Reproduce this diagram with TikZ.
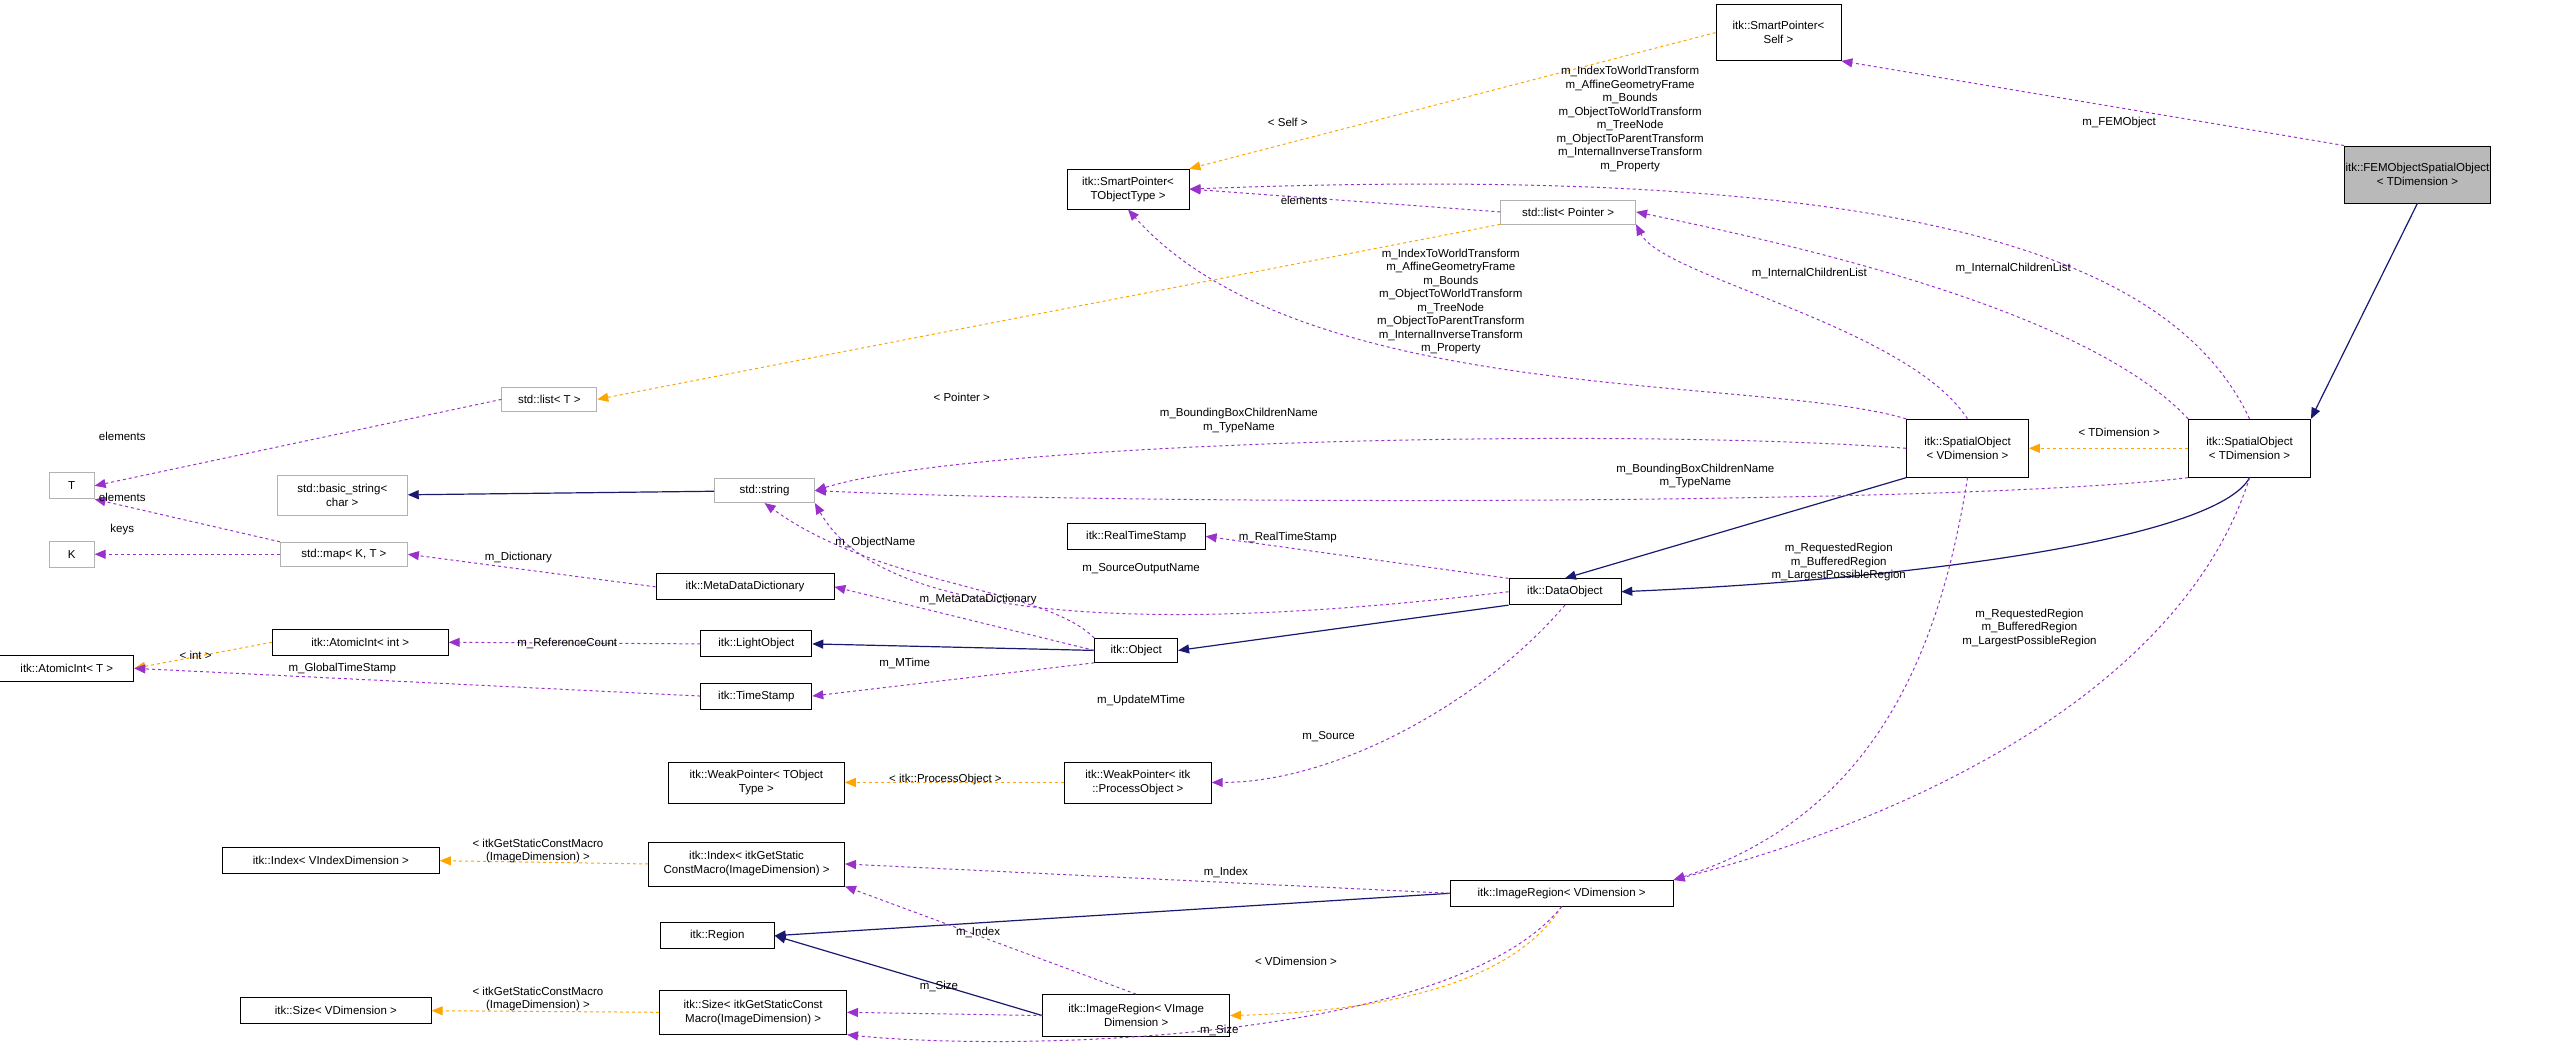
\documentclass[tikz,border=0pt]{standalone}
\usepackage{fontspec}
\setmainfont{Liberation Sans}
\usetikzlibrary{arrows.meta,positioning,calc}
\definecolor{inhnavy}{RGB}{25,25,112}
\definecolor{usepurple}{RGB}{153,50,204}
\definecolor{tmplorange}{RGB}{255,165,0}

\begin{document}
\begin{tikzpicture}[x=1.63pt,y=-1.63pt,
    cls/.style={draw=black, fill=white, thick, align=center, inner sep=1pt, font=\fontsize{11.5}{14}\selectfont},
    ext/.style={cls, draw=gray!60},
    lbl/.style={align=center, inner sep=0pt, font=\fontsize{11.5}{13.5}\selectfont},
    inh/.style={draw=inhnavy, line width=1.2pt, -{Triangle[length=11pt,width=9pt]}},
    use/.style={draw=usepurple, line width=1pt, dashed, -{Triangle[length=11pt,width=9pt]}},
    tmpl/.style={draw=tmplorange, line width=1pt, dashed, -{Triangle[length=11pt,width=9pt]}}]
    \useasboundingbox (0,0) rectangle (1568,641);

    % classes
    \node[cls, minimum width=125pt, minimum height=56pt] (spself) at (1091,20) {itk::SmartPointer<\\Self >};
    \node[cls, fill=gray!55, minimum width=127pt, minimum height=57pt] (fem) at (1483,107) {itk::FEMObjectSpatialObject\\< TDimension >};
    \node[cls, minimum width=122pt, minimum height=40pt] (spt) at (692,116) {itk::SmartPointer<\\TObjectType >};
    \node[ext, minimum width=135pt, minimum height=24pt] (listp) at (962,130) {std::list< Pointer >};
    \node[cls, minimum width=122pt, minimum height=58pt] (sov) at (1207,275) {itk::SpatialObject\\< VDimension >};
    \node[cls, minimum width=122pt, minimum height=58pt] (sot) at (1380,275) {itk::SpatialObject\\< TDimension >};
    \node[ext, minimum width=95pt, minimum height=24pt] (listt) at (337,245) {std::list< T >};
    \node[ext, minimum width=45pt, minimum height=26pt] (tt) at (44,298) {T};
    \node[ext, minimum width=45pt, minimum height=26pt] (kk) at (44,340) {K};
    \node[ext, minimum width=130pt, minimum height=40pt] (bstr) at (210,304) {std::basic\_string<\\char >};
    \node[ext, minimum width=100pt, minimum height=24pt] (str) at (469,301) {std::string};
    \node[ext, minimum width=127pt, minimum height=24pt] (map) at (211,340) {std::map< K, T >};
    \node[cls, minimum width=178pt, minimum height=26pt] (mdd) at (457,360) {itk::MetaDataDictionary};
    \node[cls, minimum width=138pt, minimum height=26pt] (rts) at (697,329) {itk::RealTimeStamp};
    \node[cls, minimum width=112pt, minimum height=26pt] (dobj) at (960,363) {itk::DataObject};
    \node[cls, minimum width=176pt, minimum height=26pt] (aint) at (221,394) {itk::AtomicInt< int >};
    \node[cls, minimum width=111pt, minimum height=26pt] (lobj) at (464,395) {itk::LightObject};
    \node[cls, minimum width=134pt, minimum height=26pt] (atmpl) at (41,410) {itk::AtomicInt< T >};
    \node[cls, minimum width=111pt, minimum height=26pt] (tstamp) at (464,427) {itk::TimeStamp};
    \node[cls, minimum width=83pt, minimum height=24pt] (obj) at (697,399) {itk::Object};
    \node[cls, minimum width=176pt, minimum height=41pt] (wptr) at (464,480) {itk::WeakPointer< TObject\\Type >};
    \node[cls, minimum width=147pt, minimum height=41pt] (wpo) at (698,480) {itk::WeakPointer< itk\\::ProcessObject >};
    \node[cls, minimum width=217pt, minimum height=26pt] (idxv) at (203,528) {itk::Index< VIndexDimension >};
    \node[cls, minimum width=196pt, minimum height=44pt] (idxg) at (458,530) {itk::Index< itkGetStatic\\ConstMacro(ImageDimension) >};
    \node[cls, minimum width=223pt, minimum height=26pt] (irv) at (958,548) {itk::ImageRegion< VDimension >};
    \node[cls, minimum width=114pt, minimum height=26pt] (reg) at (440,574) {itk::Region};
    \node[cls, minimum width=187pt, minimum height=42pt] (iri) at (697,623) {itk::ImageRegion< VImage\\Dimension >};
    \node[cls, minimum width=191pt, minimum height=26pt] (sizev) at (206,620) {itk::Size< VDimension >};
    \node[cls, minimum width=187pt, minimum height=44pt] (sizeg) at (462,621) {itk::Size< itkGetStaticConst\\Macro(ImageDimension) >};

    % inheritance
    \draw[inh] (fem.south) -- (sot.north east);
    \draw[inh] (str) -- (bstr);
    \draw[inh] (sov.south west) -- (dobj.north);
    \draw[inh] (sot.south) .. controls (1360,330) and (1180,355) .. (dobj.east);
    \draw[inh] (dobj.south west) -- (obj.east);
    \draw[inh] (obj.west) -- (lobj.east);
    \draw[inh] (irv.west) -- (reg.east);
    \draw[inh] (iri.west) -- (reg.east);

    % template instances
    \draw[tmpl] (spself.west) -- (spt.north east);
    \draw[tmpl] (listp.south west) -- (listt.east);
    \draw[tmpl] (aint.west) -- (atmpl.east);
    \draw[tmpl] (sot.west) -- (sov.east);
    \draw[tmpl] (wpo.west) -- (wptr.east);
    \draw[tmpl] (idxg.west) -- (idxv.east);
    \draw[tmpl] (sizeg.west) -- (sizev.east);
    \draw[tmpl] (irv.south) .. controls (930,600) and (860,620) .. (iri.east);

    % usage
    \draw[use] (fem.north west) -- (spself.south east);
    \draw[use] (sot.north) .. controls (1330,150) and (1150,100) .. (spt.east);
    \draw[use] (listp.west) -- (spt.east);
    \draw[use] (sov.north west) .. controls (1080,230) and (800,250) .. (spt.south);
    \draw[use] (sot.north west) .. controls (1280,190) and (1100,150) .. (listp.east);
    \draw[use] (sov.north) .. controls (1170,200) and (1020,170) .. (listp.south east);
    \draw[use] (listt.west) -- (tt.east);
    \draw[use] (map.north west) -- (tt.south east);
    \draw[use] (map.west) -- (kk.east);
    \draw[use] (sov.west) .. controls (1000,262) and (600,270) .. (str.east);
    \draw[use] (sot.south west) .. controls (1200,310) and (700,310) .. (str.east);
    \draw[use] (obj.north west) .. controls (640,360) and (540,360) .. (str.south);
    \draw[use] (dobj.west) .. controls (700,390) and (540,380) .. (str.south east);
    \draw[use] (mdd.west) -- (map.east);
    \draw[use] (obj.west) -- (mdd.east);
    \draw[use] (dobj.north west) -- (rts.east);
    \draw[use] (lobj.west) -- (aint.east);
    \draw[use] (tstamp.west) -- (atmpl.east);
    \draw[use] (obj.south west) -- (tstamp.east);
    \draw[use] (dobj.south) .. controls (910,430) and (820,480) .. (wpo.east);
    \draw[use] (sov.south) .. controls (1190,400) and (1150,500) .. (irv.north east);
    \draw[use] (sot.south) .. controls (1340,420) and (1180,500) .. (irv.north east);
    \draw[use] (irv.west) -- (idxg.east);
    \draw[use] (iri.north) -- (idxg.south east);
    \draw[use] (iri.west) -- (sizeg.east);
    \draw[use] (irv.south) .. controls (890,640) and (620,645) .. (sizeg.south east);

    % labels
    \node[lbl] (lfem) at (1300,75) {m\_FEMObject};
    \node[lbl] (lself) at (790,75) {< Self >};
    \node[lbl] (lspt) at (1000,73) {m\_IndexToWorldTransform\\m\_AffineGeometryFrame\\m\_Bounds\\m\_ObjectToWorldTransform\\m\_TreeNode\\m\_ObjectToParentTransform\\m\_InternalInverseTransform\\m\_Property};
    \node[lbl] (lspv) at (890,185) {m\_IndexToWorldTransform\\m\_AffineGeometryFrame\\m\_Bounds\\m\_ObjectToWorldTransform\\m\_TreeNode\\m\_ObjectToParentTransform\\m\_InternalInverseTransform\\m\_Property};
    \node[lbl] (lelem) at (800,123) {elements};
    \node[lbl] (lict) at (1235,165) {m\_InternalChildrenList};
    \node[lbl] (licv) at (1110,168) {m\_InternalChildrenList};
    \node[lbl] (lptr) at (590,244) {< Pointer >};
    \node[lbl] (lelt) at (75,268) {elements};
    \node[lbl] (lelm) at (75,305) {elements};
    \node[lbl] (lkeys) at (75,325) {keys};
    \node[lbl] (lbbv) at (760,258) {m\_BoundingBoxChildrenName\\m\_TypeName};
    \node[lbl] (lbbt) at (1040,292) {m\_BoundingBoxChildrenName\\m\_TypeName};
    \node[lbl] (ltd) at (1300,265) {< TDimension >};
    \node[lbl] (lrts) at (790,330) {m\_RealTimeStamp};
    \node[lbl] (lobn) at (537,333) {m\_ObjectName};
    \node[lbl] (lson) at (700,349) {m\_SourceOutputName};
    \node[lbl] (ldict) at (318,342) {m\_Dictionary};
    \node[lbl] (lmdd) at (600,368) {m\_MetaDataDictionary};
    \node[lbl] (lrc) at (348,395) {m\_ReferenceCount};
    \node[lbl] (lint) at (120,402) {< int >};
    \node[lbl] (lgts) at (210,410) {m\_GlobalTimeStamp};
    \node[lbl] (lmt) at (555,407) {m\_MTime};
    \node[lbl] (lumt) at (700,430) {m\_UpdateMTime};
    \node[lbl] (lsrc) at (815,452) {m\_Source};
    \node[lbl] (lpo) at (580,478) {< itk::ProcessObject >};
    \node[lbl] (lrrv) at (1128,345) {m\_RequestedRegion\\m\_BufferedRegion\\m\_LargestPossibleRegion};
    \node[lbl] (lrrt) at (1245,385) {m\_RequestedRegion\\m\_BufferedRegion\\m\_LargestPossibleRegion};
    \node[lbl] (lidx) at (752,535) {m\_Index};
    \node[lbl] (lidx2) at (600,572) {m\_Index};
    \node[lbl] (lgsi) at (330,522) {< itkGetStaticConstMacro\\(ImageDimension) >};
    \node[lbl] (lgss) at (330,613) {< itkGetStaticConstMacro\\(ImageDimension) >};
    \node[lbl] (lvd) at (795,590) {< VDimension >};
    \node[lbl] (lsz) at (576,605) {m\_Size};
    \node[lbl] (lsz2) at (748,632) {m\_Size};
\end{tikzpicture}
\end{document}
